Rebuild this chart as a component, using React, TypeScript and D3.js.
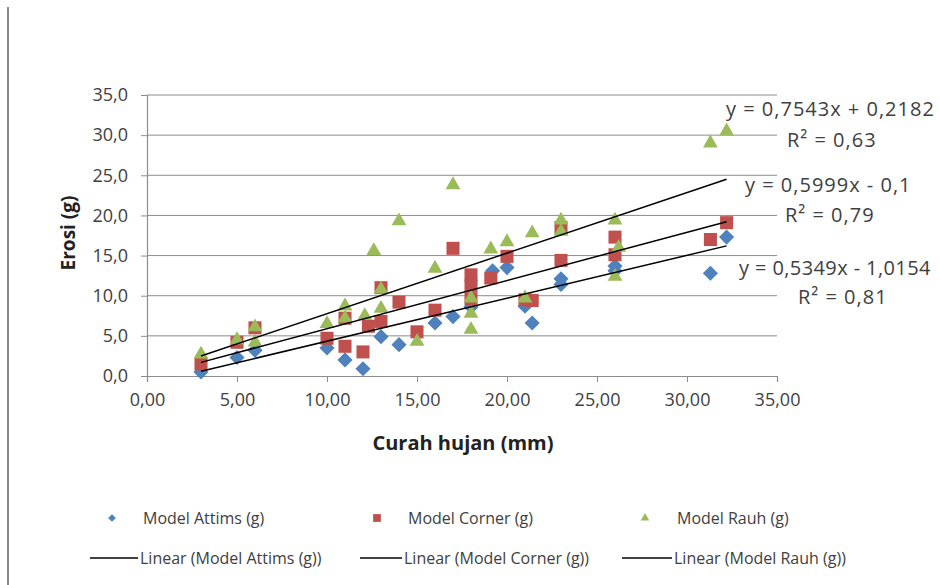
import React, {useEffect, useRef} from "react";
import * as d3 from "d3";

// rainfall (mm) / erosion (g) per model
const attimsX = [3.0, 5.0, 6.0, 10.0, 11.0, 12.0, 13.0, 14.0, 16.0, 17.0, 18.0, 19.2, 20.0, 21.0, 21.4, 23.0, 23.0, 26.0, 26.0, 31.3, 32.2];
const attimsY = [0.5, 2.3, 3.2, 3.5, 2.0, 0.9, 4.9, 3.9, 6.6, 7.4, 8.6, 13.1, 13.5, 8.7, 6.6, 12.1, 11.4, 13.7, 13.1, 12.8, 17.3];

const cornerX = [3.0, 5.0, 6.0, 10.0, 11.0, 11.0, 12.0, 12.3, 13.0, 13.0, 14.0, 15.0, 16.0, 17.0, 18.0, 18.0, 18.0, 19.1, 20.0, 21.0, 21.4, 23.0, 23.0, 26.0, 26.0, 31.3, 32.2];
const cornerY = [1.5, 4.2, 6.0, 4.7, 3.7, 7.2, 3.0, 6.2, 11.0, 6.8, 9.2, 5.5, 8.2, 15.9, 12.6, 11.2, 9.6, 12.2, 14.9, 9.5, 9.4, 18.5, 14.4, 17.3, 15.1, 17.0, 19.1];

const rauhX = [3.0, 5.0, 6.0, 6.0, 10.0, 11.0, 11.0, 12.1, 12.6, 13.0, 13.0, 14.0, 15.0, 16.0, 17.0, 18.0, 18.0, 18.0, 19.1, 20.0, 21.0, 21.4, 23.0, 23.0, 26.0, 26.2, 26.0, 31.3, 32.2];
const rauhY = [2.7, 4.5, 6.1, 4.2, 6.5, 8.7, 7.2, 7.5, 15.6, 10.8, 8.4, 19.3, 4.3, 13.4, 23.8, 9.7, 7.8, 5.8, 15.8, 16.7, 9.7, 17.8, 19.4, 18.0, 19.4, 16.0, 12.4, 29.0, 30.5];

const seriesNames = ["Model Attims (g)", "Model Corner (g)", "Model Rauh (g)"];
const seriesColors = ["#4F81BD", "#C0504D", "#9BBB59"];
const seriesShapes = ["diamond", "square", "triangle"];

// trendline coefficients as printed on the chart
const slopes = [0.5349, 0.5999, 0.7543];
const intercepts = [-1.0154, -0.1, 0.2182];
const eqLabels = ["y = 0,5349x - 1,0154", "y = 0,5999x - 0,1", "y = 0,7543x + 0,2182"];
const r2Labels = ["R² = 0,81", "R² = 0,79", "R² = 0,63"];

const xTicks = [0, 5, 10, 15, 20, 25, 30, 35];
const yTicks = [0, 5, 10, 15, 20, 25, 30, 35];

const font = "'Open Sans', sans-serif";

function symbolPath(shape: string, big: boolean)
{
    if (shape === "diamond") return d3.symbol(d3.symbolSquare, big ? 115 : 30)();
    if (shape === "square") return d3.symbol(d3.symbolSquare, big ? 170 : 60)();
    return d3.symbol(d3.symbolTriangle, big ? 95 : 32)();
}

export default function App()
{
    const ref = useRef<SVGSVGElement>(null);

    useEffect(() =>
    {
        const svg = d3.select(ref.current);
        svg.selectAll("*").remove();

        const xScale = d3.scaleLinear().domain([0, 35]).range([147, 777]);
        const yScale = d3.scaleLinear().domain([0, 35]).range([376, 95]);

        const series = [
            {x: attimsX, y: attimsY},
            {x: cornerX, y: cornerY},
            {x: rauhX, y: rauhY},
        ];

        // left border of the chart frame
        svg.append("line")
            .attr("x1", 8).attr("x2", 8)
            .attr("y1", 7).attr("y2", 585)
            .attr("stroke", "#8a8a8a")
            .attr("stroke-width", 2);

        // gridlines
        svg.append("g")
            .selectAll("line")
            .data(yTicks.slice(1))
            .enter()
            .append("line")
            .attr("x1", xScale(0)).attr("x2", xScale(35))
            .attr("y1", (d) => yScale(d)).attr("y2", (d) => yScale(d))
            .attr("stroke", "#8c8c8c")
            .attr("stroke-width", 1);

        const yAxis = svg.append("g")
            .attr("transform", `translate(${xScale(0)},0)`)
            .call(d3.axisLeft(yScale).tickValues(yTicks).tickSize(6).tickPadding(13)
                .tickFormat((d) => d3.format(".1f")(d as number).replace(".", ",")));

        const xAxis = svg.append("g")
            .attr("transform", `translate(0,${yScale(0)})`)
            .call(d3.axisBottom(xScale).tickValues(xTicks).tickSize(6).tickPadding(11)
                .tickFormat((d) => d3.format(".2f")(d as number).replace(".", ",")));

        [xAxis, yAxis].forEach((ax) =>
        {
            ax.select(".domain").attr("stroke", "#8c8c8c").attr("stroke-width", 1.2);
            ax.selectAll(".tick line").attr("stroke", "#8c8c8c");
            ax.selectAll(".tick text")
                .attr("fill", "#404040")
                .style("font-family", font)
                .style("font-size", "18px");
        });

        // markers
        series.forEach((s, i) =>
        {
            svg.append("g")
                .selectAll("path")
                .data(s.x.map((x, j) => [x, s.y[j]]))
                .enter()
                .append("path")
                .attr("d", symbolPath(seriesShapes[i], true))
                .attr("transform", (d) =>
                    `translate(${xScale(d[0])},${yScale(d[1])})` + (seriesShapes[i] === "diamond" ? " rotate(45)" : ""))
                .attr("fill", seriesColors[i]);
        });

        // linear trendlines
        series.forEach((s, i) =>
        {
            const ext = d3.extent(s.x) as [number, number];
            const line = d3.line<number>()
                .x((x) => xScale(x))
                .y((x) => yScale(slopes[i] * x + intercepts[i]));
            svg.append("path")
                .datum(ext)
                .attr("fill", "none")
                .attr("stroke", "#000")
                .attr("stroke-width", 1.5)
                .attr("d", line);
        });

        // equation labels
        const eqPos = [[739, 268, 798, 297], [745, 185, 785, 215], [726, 109, 787, 140]];
        const eqSpacing = ["0.4px", "1px", "1px"];
        eqLabels.forEach((t, i) =>
        {
            const p = eqPos[i];
            svg.append("text").attr("x", p[0]).attr("y", p[1]).attr("dy", "0.35em")
                .attr("fill", "#404040").style("font-family", font).style("font-size", "20px")
                .style("letter-spacing", eqSpacing[i]).text(t);
            svg.append("text").attr("x", p[2]).attr("y", p[3]).attr("dy", "0.35em")
                .attr("fill", "#404040").style("font-family", font).style("font-size", "20px")
                .style("letter-spacing", "1px").text(r2Labels[i]);
        });

        // axis titles
        svg.append("text")
            .attr("x", 463).attr("y", 443).attr("dy", "0.35em")
            .attr("text-anchor", "middle")
            .attr("fill", "#222")
            .style("font-family", font).style("font-size", "20px").style("font-weight", "bold")
            .text("Curah hujan (mm)");

        svg.append("text")
            .attr("transform", "translate(68,233) rotate(-90)")
            .attr("dy", "0.35em")
            .attr("text-anchor", "middle")
            .attr("fill", "#222")
            .style("font-family", font).style("font-size", "19px").style("font-weight", "bold")
            .text("Erosi (g)");

        // legend
        const legMarkX = [112, 377, 645];
        const legTextX = [143, 408, 677];
        seriesNames.forEach((name, i) =>
        {
            svg.append("path")
                .attr("d", symbolPath(seriesShapes[i], false))
                .attr("transform", `translate(${legMarkX[i]},518)` + (seriesShapes[i] === "diamond" ? " rotate(45)" : ""))
                .attr("fill", seriesColors[i]);
            svg.append("text")
                .attr("x", legTextX[i]).attr("y", 518).attr("dy", "0.35em")
                .attr("fill", "#404040").style("font-family", font).style("font-size", "16px")
                .text(name);
        });

        const legLineX = [[90, 138], [360, 402], [622, 672]];
        seriesNames.forEach((name, i) =>
        {
            svg.append("line")
                .attr("x1", legLineX[i][0]).attr("x2", legLineX[i][1])
                .attr("y1", 558).attr("y2", 558)
                .attr("stroke", "#000").attr("stroke-width", 1.5);
            svg.append("text")
                .attr("x", legLineX[i][1] + 2).attr("y", 558).attr("dy", "0.35em")
                .attr("fill", "#404040").style("font-family", font).style("font-size", "16px")
                .text(`Linear (${name})`);
        });
    }, []);

    return (
        <svg ref={ref} width={940} height={585}
             style={{position: "absolute", left: 0, top: 0, background: "#fff"}}/>
    );
}
